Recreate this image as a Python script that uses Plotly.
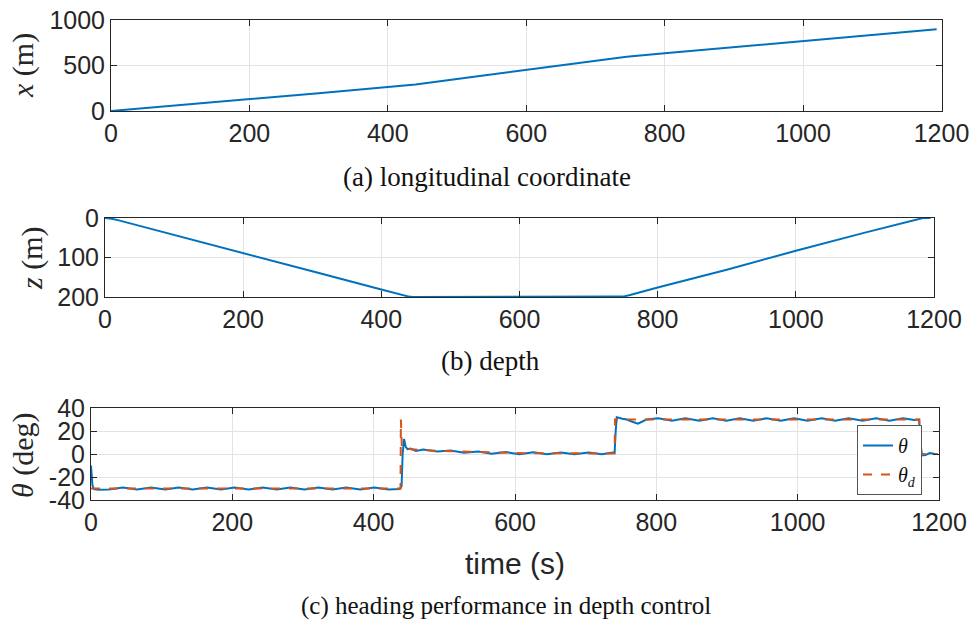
import plotly.graph_objects as go

# ---------------- data ----------------
# (a) longitudinal coordinate x (m)
x_t = [0, 100, 200, 300, 400, 440, 500, 600, 700, 745, 800, 900, 1000, 1100, 1193]
x_val = [0, 63, 128, 196, 264, 292, 352, 450, 550, 595, 634, 700, 766, 832, 898]

# (b) depth z (m)
z_t = [0, 5, 10, 20, 50, 100, 200, 300, 400, 430, 440, 445, 745, 750, 760, 800, 900, 1000, 1100, 1160, 1178, 1184, 1195]
z_val = [0, 0.5, 2, 6, 20, 43, 89, 135, 181, 195, 199, 200, 200, 199, 195, 176, 131, 83, 37, 10, 1.5, 0, 0]

# (c) heading theta (deg)
th_t = [0, 2, 4, 10, 25, 45, 65, 85, 105, 124, 144, 164, 184, 203, 223, 243, 263, 282,
        302, 322, 342, 361, 381, 401, 421, 437, 439.5, 441, 443, 445.5, 448, 452, 460,
        470, 490, 509, 528, 548, 567, 587, 606, 626, 645, 665, 684, 704, 723, 738, 741,
        742.5, 744, 752, 758, 766, 774, 786, 803, 822, 841, 861, 880, 899, 918, 937, 956,
        976, 995, 1014, 1034, 1053, 1072, 1092, 1111, 1130, 1149, 1165, 1172, 1173.5,
        1176, 1181, 1187, 1193, 1198]
th_val = [-10, -27, -30.6, -31.0, -30.8, -29.2, -30.8, -29.2, -30.8, -29.2, -30.8, -29.2,
          -30.8, -29.2, -30.8, -29.2, -30.8, -29.2, -30.8, -29.2, -30.8, -29.2, -30.8,
          -29.2, -30.8, -30.5, -28, 0, 13, 6, 4.2, 4.8, 2.7,
          4.0, 2.1, 3.1, 1.1, 2.1, 0.3, 1.7, -0.1, 1.5, -0.2, 1.4, -0.2, 1.3, -0.1, 0.8, 1.5,
          20, 32, 30.6, 30.0, 28.0, 26.4, 30.0, 31.0, 29.0, 31.0, 29.0, 31.0, 29.0, 31.0,
          29.0, 31.0, 29.0, 31.0, 29.0, 31.0, 29.0, 31.0, 29.0, 31.0, 29.0, 31.0, 29.5, 30,
          10, -1.2, -0.8, 0.9, 0.2, 0]

# desired heading theta_d (deg)
thd_t = [0, 438, 438.5, 440, 447, 470, 500, 550, 600, 650, 741, 741.5, 1172, 1172.5, 1198]
thd_val = [-30, -30, 30, 5, 4.5, 3.3, 2.6, 1.5, 0.8, 0.6, 0.5, 30, 30, 0, 0]

x_ticks = [0, 200, 400, 600, 800, 1000, 1200]
x_ticklabels = ["0", "200", "400", "600", "800", "1000", "1200"]
ya_ticks = [0, 500, 1000]
yb_ticks = [0, 100, 200]
yc_ticks = [-40, -20, 0, 20, 40]
yc_ticklabels = ["-40", "-20", "0", "20", "40"]

# ---------------- style ----------------
W, H = 973, 624
BLUE = "#0072BD"
ORANGE = "#D95319"
AXC = "#262626"
GRID = "#e3e3e3"
SANS = "Liberation Sans, Arial, sans-serif"
SERIF = "Liberation Serif, Times New Roman, serif"
TICKSIZE = 25


def fx(p):
    return p / W


def fy(p):
    return 1 - p / H


fig = go.Figure()
fig.add_trace(go.Scatter(x=x_t, y=x_val, mode="lines", line=dict(color=BLUE, width=2),
                         xaxis="x", yaxis="y", showlegend=False))
fig.add_trace(go.Scatter(x=z_t, y=z_val, mode="lines", line=dict(color=BLUE, width=2),
                         xaxis="x2", yaxis="y2", showlegend=False))
fig.add_trace(go.Scatter(x=th_t, y=th_val, mode="lines", line=dict(color=BLUE, width=2),
                         xaxis="x3", yaxis="y3", name="<i>θ</i>"))
fig.add_trace(go.Scatter(x=thd_t, y=thd_val, mode="lines",
                         line=dict(color=ORANGE, width=2, dash="dash"),
                         xaxis="x3", yaxis="y3", name="<i>θ<sub>d</sub></i>"))

common = dict(showline=True, linecolor=AXC, linewidth=1, mirror="ticks", ticks="inside",
              ticklen=6, tickwidth=1, tickcolor=AXC, showgrid=True, gridcolor=GRID,
              gridwidth=1, zeroline=False, automargin=False, ticklabeloverflow="allow",
              tickfont=dict(family=SANS, size=TICKSIZE, color=AXC))

fig.update_layout(
    width=W, height=H, margin=dict(l=0, r=0, t=0, b=0, pad=0, autoexpand=False),
    paper_bgcolor="white", plot_bgcolor="white",
    xaxis=dict(domain=[fx(111), fx(941.5)], range=[0, 1200], tickvals=x_ticks,
               ticktext=x_ticklabels, anchor="y", **common),
    yaxis=dict(domain=[fy(111), fy(20)], range=[0, 1000], tickvals=ya_ticks,
               anchor="x", **common),
    xaxis2=dict(domain=[fx(105), fx(934)], range=[0, 1200], tickvals=x_ticks,
                ticktext=x_ticklabels, anchor="y2", **common),
    yaxis2=dict(domain=[fy(297), fy(218)], range=[200, 0], tickvals=yb_ticks,
                anchor="x2", **common),
    xaxis3=dict(domain=[fx(91), fx(939)], range=[0, 1200], tickvals=x_ticks,
                ticktext=x_ticklabels, anchor="y3", **common),
    yaxis3=dict(domain=[fy(500), fy(408)], range=[-40, 40], tickvals=yc_ticks,
                ticktext=yc_ticklabels, anchor="x3", **common),
    legend=dict(x=fx(857), y=fy(425), xanchor="left", yanchor="top",
                bgcolor="white", bordercolor="#555555", borderwidth=1,
                font=dict(family=SERIF, size=20, color="#111111"),
                itemwidth=30, tracegroupgap=0),
)

annotations = [
    dict(text="<i>x</i> (m)", x=fx(23), y=fy(66), textangle=-90,
         font=dict(family=SERIF, size=30, color=AXC)),
    dict(text="<i>z</i> (m)", x=fx(32), y=fy(258), textangle=-90,
         font=dict(family=SERIF, size=30, color=AXC)),
    dict(text="<i>θ</i> (deg)", x=fx(23), y=fy(455), textangle=-90,
         font=dict(family=SERIF, size=30, color=AXC)),
    dict(text="(a) longitudinal coordinate", x=fx(487), y=fy(177),
         font=dict(family=SERIF, size=27, color="#111111")),
    dict(text="(b) depth", x=fx(490), y=fy(361),
         font=dict(family=SERIF, size=27, color="#111111")),
    dict(text="time (s)", x=fx(515), y=fy(563),
         font=dict(family=SANS, size=30, color=AXC)),
    dict(text="(c) heading performance in depth control", x=fx(506), y=fy(606),
         font=dict(family=SERIF, size=25, color="#111111")),
]
for a in annotations:
    a.update(xref="paper", yref="paper", showarrow=False, xanchor="center", yanchor="middle")
fig.update_layout(annotations=annotations)

# remove the default page margin so the figure fills the window exactly
fig.write_html("out.html",
               config={"displayModeBar": False},
               post_script="document.body.style.margin='0';document.body.style.overflow='hidden';")
